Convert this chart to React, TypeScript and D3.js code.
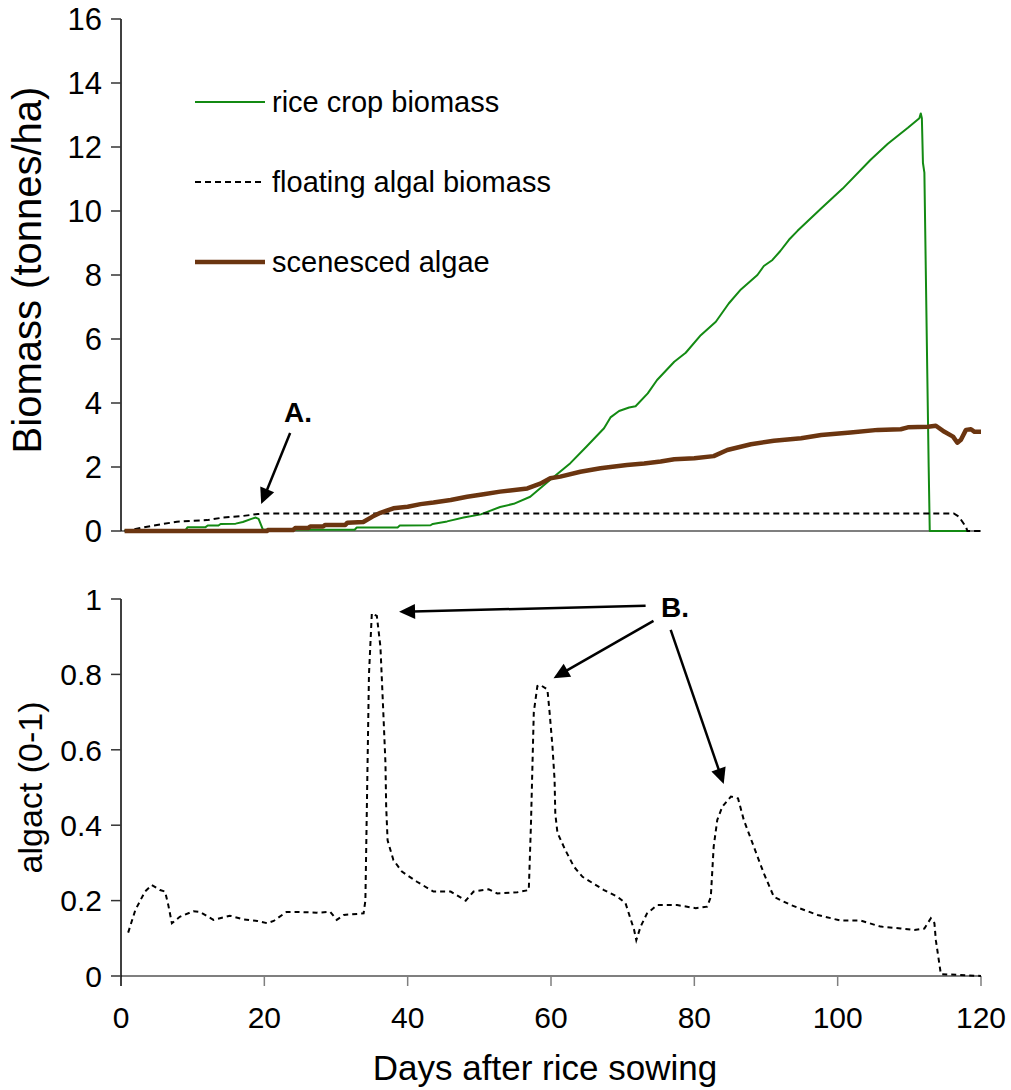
import React, { useEffect } from "react";
import * as d3 from "d3";

// ---- data -------------------------------------------------------------
const xTicks = [0, 20, 40, 60, 80, 100, 120];
const biomassTicks = [0, 2, 4, 6, 8, 10, 12, 14, 16];
const algactTicks = [0, 0.2, 0.4, 0.6, 0.8, 1];
const algactTickLabels = ["0", "0.2", "0.4", "0.6", "0.8", "1"];

const legendLabels = ["rice crop biomass", "floating algal biomass", "scenesced algae"];

// rice crop biomass (tonnes/ha)
const riceDays = [
  0.5, 4.0, 9.0, 9.3, 11.8, 12.1, 13.6, 13.9, 16.0, 17.0, 18.2, 18.8, 19.2, 19.8,
  32.6, 32.9, 38.6, 38.9, 43.2, 43.5, 45.5, 47.8, 50.2, 52.9, 54.8, 57.1, 59.9,
  62.7, 65.0, 67.4, 68.3, 69.5, 70.9, 71.8, 73.5, 74.8, 77.2, 78.8, 80.9, 83.0,
  84.8, 86.5, 88.8, 89.7, 90.9, 92.0, 93.2, 94.4, 97.8, 100.7, 104.6, 107.0,
  109.8, 111.4, 111.6, 111.75, 111.9, 112.1, 112.5, 112.7, 112.85, 118.2,
];
const riceBiomass = [
  0.02, 0.03, 0.03, 0.12, 0.12, 0.17, 0.17, 0.22, 0.23, 0.28, 0.38, 0.42, 0.38, 0.04,
  0.04, 0.11, 0.11, 0.17, 0.18, 0.22, 0.3, 0.42, 0.52, 0.75, 0.85, 1.07, 1.6,
  2.12, 2.65, 3.21, 3.55, 3.75, 3.86, 3.9, 4.3, 4.72, 5.29, 5.57, 6.12, 6.54,
  7.11, 7.55, 8.0, 8.28, 8.47, 8.75, 9.1, 9.38, 10.1, 10.7, 11.6, 12.1,
  12.6, 12.9, 13.05, 12.9, 11.5, 11.2, 5.0, 2.0, 0, 0,
];

// floating algal biomass (tonnes/ha)
const floatDays = [0.5, 4.5, 7.8, 12.0, 14.25, 17.0, 19.1, 20.0, 116.2, 116.9, 117.9, 118.1, 120];
const floatBiomass = [0.0, 0.17, 0.29, 0.34, 0.42, 0.47, 0.53, 0.55, 0.55, 0.45, 0.13, 0.0, 0.0];

// scenesced algae (tonnes/ha)
const scenDays = [
  0.5, 20.4, 20.5, 24.0, 24.3, 26.1, 26.4, 28.2, 28.5, 31.3, 31.6, 33.8, 35.1, 36.2,
  38.0, 40.0, 41.8, 43.6, 46.0, 48.3, 50.6, 52.9, 56.7, 58.5, 59.9, 61.3, 64.1,
  66.9, 68.3, 70.6, 73.0, 75.3, 77.2, 80.0, 82.7, 84.6, 87.9, 91.1, 94.9, 97.7,
  101.8, 105.6, 108.8, 109.8, 112.6, 113.7, 114.9, 116.1, 116.7, 117.2, 117.9,
  118.6, 119.1, 120,
];
const scenBiomass = [
  0.0, 0.0, 0.03, 0.03, 0.09, 0.09, 0.14, 0.14, 0.19, 0.19, 0.26, 0.28, 0.45, 0.57,
  0.71, 0.76, 0.84, 0.89, 0.97, 1.07, 1.15, 1.23, 1.33, 1.48, 1.65, 1.7, 1.85,
  1.96, 2.0, 2.06, 2.11, 2.17, 2.24, 2.27, 2.34, 2.53, 2.71, 2.82, 2.9, 3.0,
  3.08, 3.16, 3.18, 3.24, 3.26, 3.29, 3.1, 2.95, 2.76, 2.85, 3.16,
  3.18, 3.1, 3.1,
];

// algal activity index (0-1)
const algactDays = [
  1.0, 2.0, 3.35, 4.3, 5.45, 6.15, 6.6, 7.1, 8.2, 10.1, 11.0, 12.9, 15.2, 17.1,
  19.0, 20.4, 21.3, 23.1, 24.5, 27.3, 29.2, 30.1, 31.1, 33.85, 34.1, 34.6, 35.0,
  35.7, 36.2, 36.6, 36.9, 37.0, 37.2, 38.0, 39.2, 41.3, 43.6, 46.0, 48.1, 49.2,
  51.3, 52.5, 55.3, 56.9, 57.2, 57.6, 58.1, 58.5, 59.5, 59.8, 60.2, 60.5, 60.6,
  60.9, 62.0, 63.2, 64.4, 67.4, 69.3, 70.4, 71.6, 71.9, 72.5, 73.4, 74.8, 77.6,
  80.2, 81.8, 82.3, 82.7, 83.2, 83.9, 85.1, 86.1, 86.9, 88.3, 89.7, 91.1, 93.5,
  97.2, 100.4, 103.2, 106.0, 108.8, 110.7, 112.1, 113.0, 113.5, 113.7, 114.4, 120,
];
const algactValues = [
  0.115, 0.175, 0.224, 0.241, 0.228, 0.224, 0.188, 0.14, 0.157, 0.172, 0.17, 0.149, 0.16, 0.15,
  0.146, 0.14, 0.146, 0.17, 0.17, 0.168, 0.17, 0.149, 0.162, 0.166, 0.2, 0.8, 0.962,
  0.955, 0.873, 0.7, 0.565, 0.45, 0.36, 0.308, 0.277, 0.25, 0.224, 0.224, 0.2, 0.224,
  0.23, 0.219, 0.222, 0.228, 0.4, 0.7, 0.769, 0.772, 0.76, 0.7, 0.61, 0.52, 0.43,
  0.38, 0.334, 0.29, 0.263, 0.228, 0.21, 0.193, 0.122, 0.095, 0.131, 0.166, 0.188, 0.188,
  0.18, 0.184, 0.21, 0.343, 0.414, 0.449, 0.476, 0.471, 0.414, 0.343, 0.272, 0.21, 0.188,
  0.162, 0.147, 0.147, 0.131, 0.126, 0.122, 0.126, 0.153, 0.14, 0.095, 0.005, 0.0,
];

// annotation arrows, in data units: [tailDay, tailValue, tipDay, tipValue]
const arrowA = [23.6, 3.06, 19.56, 0.84];
const arrowsB = [
  [73.2, 0.982, 38.8, 0.966],
  [74.3, 0.942, 60.35, 0.79],
  [76.7, 0.918, 84.1, 0.509],
];
const labelA = { day: 24.7, value: 3.4, text: "A." };
const labelB = { day: 77.3, value: 0.952, text: "B." };

// ---- layout -----------------------------------------------------------
const W = 1011;
const H = 1090;
const FONT = "'Liberation Sans', Arial, Helvetica, sans-serif";
const GREEN = "#138a13";
const BROWN = "#6b3510";
const AXIS_GREY = "#7f7f7f";

const x = d3.scaleLinear().domain([0, 120]).range([121, 981]);
const yTop = d3.scaleLinear().domain([0, 16]).range([531, 19]);
const yBot = d3.scaleLinear().domain([0, 1]).range([976, 599]);

function pathFor(days: number[], vals: number[], y: d3.ScaleLinear<number, number>) {
  const line = d3
    .line<number>()
    .x((_, i) => x(days[i]))
    .y((v) => y(v));
  return line(vals) || "";
}

function Arrow({ a, y }: { a: number[]; y: d3.ScaleLinear<number, number> }) {
  const x1 = x(a[0]);
  const y1 = y(a[1]);
  const x2 = x(a[2]);
  const y2 = y(a[3]);
  const dx = x2 - x1;
  const dy = y2 - y1;
  const len = Math.hypot(dx, dy);
  const ux = dx / len;
  const uy = dy / len;
  const headLen = 16;
  const halfW = 7.5;
  const bx = x2 - ux * headLen;
  const by = y2 - uy * headLen;
  const pts = [
    [x2, y2],
    [bx - uy * halfW, by + ux * halfW],
    [bx + uy * halfW, by - ux * halfW],
  ];
  return (
    <g>
      <line x1={x1} y1={y1} x2={bx + ux * 2} y2={by + uy * 2} stroke="#000" strokeWidth={2.5} />
      <polygon points={pts.map((p) => p.join(",")).join(" ")} fill="#000" />
    </g>
  );
}

export default function App() {
  useEffect(() => {
    document.body.style.margin = "0";
  }, []);

  const legendY = [102, 182, 262];

  return (
    <svg width={W} height={H} viewBox={`0 0 ${W} ${H}`} style={{ display: "block", background: "#fff" }} fontFamily={FONT}>
      <rect x={0} y={0} width={W} height={H} fill="#fff" />

      {/* ---------- upper panel: biomass ---------- */}
      <line x1={x(0)} x2={x(120)} y1={yTop(0)} y2={yTop(0)} stroke={AXIS_GREY} strokeWidth={2} />
      <line x1={x(0)} x2={x(0)} y1={yTop(16)} y2={yTop(0)} stroke="#000" strokeWidth={1.5} />
      {biomassTicks.map((t) => (
        <g key={`bt${t}`}>
          <line x1={x(0) - 10} x2={x(0)} y1={yTop(t)} y2={yTop(t)} stroke="#333" strokeWidth={1.5} />
          <text x={x(0) - 19} y={yTop(t)} dy="0.36em" textAnchor="end" fontSize={31} fill="#000">
            {t}
          </text>
        </g>
      ))}
      <text
        transform={`translate(27,270) rotate(-90)`}
        textAnchor="middle"
        dy="0.36em"
        fontSize={40}
        fill="#000"
      >
        Biomass (tonnes/ha)
      </text>

      <path d={pathFor(riceDays, riceBiomass, yTop)} fill="none" stroke={GREEN} strokeWidth={2} strokeLinejoin="round" />
      <path
        d={pathFor(floatDays, floatBiomass, yTop)}
        fill="none"
        stroke="#000"
        strokeWidth={2}
        strokeDasharray="6,4"
      />
      <path
        d={pathFor(scenDays, scenBiomass, yTop)}
        fill="none"
        stroke={BROWN}
        strokeWidth={4.5}
        strokeLinejoin="round"
      />

      {/* legend */}
      <line x1={195} x2={265} y1={legendY[0]} y2={legendY[0]} stroke={GREEN} strokeWidth={2} />
      <line x1={195} x2={265} y1={legendY[1]} y2={legendY[1]} stroke="#000" strokeWidth={2} strokeDasharray="6,4" />
      <line x1={195} x2={265} y1={legendY[2]} y2={legendY[2]} stroke={BROWN} strokeWidth={4.5} />
      {legendLabels.map((l, i) => (
        <text key={l} x={272} y={legendY[i]} dy="0.36em" fontSize={29} fill="#000">
          {l}
        </text>
      ))}

      {/* annotation A */}
      <text x={x(labelA.day)} y={yTop(labelA.value)} textAnchor="middle" fontSize={28} fontWeight="bold" fill="#000">
        {labelA.text}
      </text>
      <Arrow a={arrowA} y={yTop} />

      {/* ---------- lower panel: algact ---------- */}
      <line x1={x(0)} x2={x(120)} y1={yBot(0)} y2={yBot(0)} stroke={AXIS_GREY} strokeWidth={2} />
      {xTicks.map((t) => (
        <g key={`xt${t}`}>
          <line x1={x(t)} x2={x(t)} y1={yBot(0)} y2={yBot(0) + 10} stroke={t === 0 ? "#000" : AXIS_GREY} strokeWidth={1.5} />
          <text x={x(t)} y={yBot(0) + 41} dy="0.36em" textAnchor="middle" fontSize={30} fill="#000">
            {t}
          </text>
        </g>
      ))}
      <line x1={x(0)} x2={x(0)} y1={yBot(1)} y2={yBot(0)} stroke="#000" strokeWidth={1.5} />
      {algactTicks.map((t, i) => (
        <g key={`at${t}`}>
          <line x1={x(0) - 10} x2={x(0)} y1={yBot(t)} y2={yBot(t)} stroke="#333" strokeWidth={1.5} />
          <text x={x(0) - 19} y={yBot(t)} dy="0.36em" textAnchor="end" fontSize={30} fill="#000">
            {algactTickLabels[i]}
          </text>
        </g>
      ))}
      <text
        transform={`translate(30,${(yBot(0) + yBot(1)) / 2}) rotate(-90)`}
        textAnchor="middle"
        dy="0.36em"
        fontSize={34}
        fill="#000"
      >
        algact (0-1)
      </text>
      <text x={(x(0) + x(120)) / 2 - 6} y={1080} textAnchor="middle" fontSize={35} fill="#000">
        Days after rice sowing
      </text>

      <path
        d={pathFor(algactDays, algactValues, yBot)}
        fill="none"
        stroke="#000"
        strokeWidth={2}
        strokeDasharray="5,4"
      />

      {/* annotation B */}
      <text x={x(labelB.day)} y={yBot(labelB.value)} textAnchor="middle" fontSize={28} fontWeight="bold" fill="#000">
        {labelB.text}
      </text>
      {arrowsB.map((a, i) => (
        <Arrow key={`b${i}`} a={a} y={yBot} />
      ))}
    </svg>
  );
}
